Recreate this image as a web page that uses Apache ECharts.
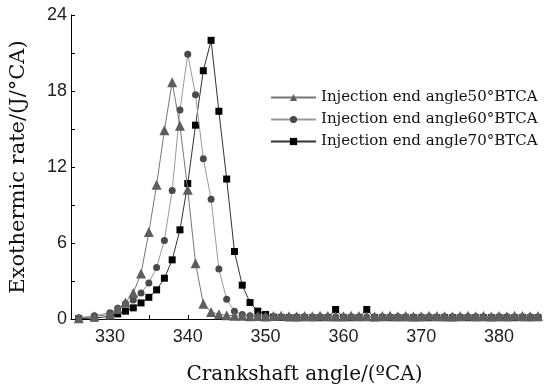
<!DOCTYPE html>
<html>
<head>
<meta charset="utf-8">
<script src="https://cdn.jsdelivr.net/npm/echarts@6/dist/echarts.min.js"></script>
<style>html,body{margin:0;padding:0;background:#fff}#c{width:550px;height:390px}</style>
</head>
<body>
<div id="c"></div>
<script>
// Crankshaft angle (°CA)
const angles = [326,328,330,331,332,333,334,335,336,337,338,339,340,341,342,343,344,345,346,
  347,348,349,350,351,352,353,354,355,356,357,358,359,360,361,362,363,364,365,366,
  367,368,369,370,371,372,373,374,375,376,377,378,379,380,381,382,383,384,385];

const names = ['Injection end angle50°BTCA','Injection end angle60°BTCA','Injection end angle70°BTCA'];

// Exothermic rate (J/°CA)
const rate50 = [0.05,0.2,0.36,0.78,1.3,2.05,3.6,6.86,10.6,14.9,18.7,15.25,10.2,4.4,1.2,0.55,0.38,0.3,0.25,
  0.25,0.22,0.24,0.2,0.23,0.25,0.22,0.2,0.24,0.22,0.25,0.23,0.2,0.22,0.25,0.24,0.22,0.2,0.23,0.25,
  0.22,0.24,0.2,0.22,0.25,0.23,0.22,0.2,0.24,0.25,0.22,0.23,0.2,0.24,0.22,0.25,0.23,0.21,0.24];
const rate60 = [0.1,0.25,0.5,0.85,1.22,1.5,2.05,2.85,4.06,6.2,10.15,16.5,20.9,17.7,12.65,9.45,3.94,1.55,0.62,
  0.35,0.25,0.2,0.18,0.17,0.18,0.16,0.17,0.18,0.16,0.17,0.18,0.17,0.16,0.18,0.17,0.16,0.18,0.17,0.16,
  0.18,0.17,0.16,0.17,0.18,0.16,0.17,0.18,0.16,0.17,0.18,0.17,0.16,0.18,0.17,0.16,0.18,0.17,0.16];
const rate70 = [0.02,0.08,0.2,0.4,0.62,0.88,1.27,1.71,2.3,3.22,4.67,7.04,10.7,15.3,19.6,22.0,16.4,11.05,5.33,
  2.67,1.3,0.62,0.36,0.15,0.12,0.1,0.1,0.1,0.1,0.1,0.1,0.75,0.1,0.1,0.1,0.75,0.1,0.1,0.1,
  0.1,0.1,0.1,0.1,0.1,0.1,0.1,0.1,0.1,0.1,0.1,0.1,0.1,0.1,0.1,0.1,0.1,0.1,0.1];

const xTicks = [330,340,350,360,370,380];
const yTicks = [0,6,12,18,24];

function pairs(vals){ return angles.map((a,i)=>[a, vals[i]]); }

const chart = echarts.init(document.getElementById('c'), null, {renderer:'canvas'});
const serif = 'DejaVu Serif';
const sans = 'Liberation Sans';

chart.setOption({
  animation:false,
  backgroundColor:'#fff',
  grid:{left:66, right:12, top:15, bottom:66, containLabel:false},
  legend:{
    orient:'vertical', left:270, top:90, padding:0, itemWidth:45, itemHeight:9, itemGap:7,
    data:names,
    textStyle:{fontFamily:serif, fontSize:15, color:'#111'}
  },
  xAxis:{
    type:'value', min:325, max:385, interval:5,
    name:'Crankshaft angle/(ºCA)', nameLocation:'middle', nameGap:46,
    nameTextStyle:{fontFamily:serif, fontSize:20, color:'#111'},
    axisLine:{lineStyle:{color:'#000', width:1}},
    axisTick:{inside:true, length:4, lineStyle:{color:'#000'}},
    axisLabel:{fontFamily:sans, fontSize:18, color:'#222', margin:9,
      formatter:v=> xTicks.includes(v) ? String(v) : ''},
    splitLine:{show:false}
  },
  yAxis:{
    type:'value', min:0, max:24, interval:3,
    name:'Exothermic rate/(J/°CA)', nameLocation:'middle', nameGap:42,
    nameTextStyle:{fontFamily:serif, fontSize:21, color:'#111'},
    axisLine:{show:true, lineStyle:{color:'#000', width:1}},
    axisTick:{show:true, inside:true, length:4, lineStyle:{color:'#000'}},
    axisLabel:{fontFamily:sans, fontSize:18, color:'#222', margin:4,
      formatter:v=> yTicks.includes(v) ? String(v) : ''},
    splitLine:{show:false}
  },
  series:[
    {name:names[0], type:'line', data:pairs(rate50), symbol:'triangle', symbolSize:10, z:4,
      lineStyle:{color:'#777', width:1}, itemStyle:{color:'#5e5e5e'}},
    {name:names[1], type:'line', data:pairs(rate60), symbol:'circle', symbolSize:7, z:3,
      lineStyle:{color:'#999', width:1}, itemStyle:{color:'#4a4a4a'}},
    {name:names[2], type:'line', data:pairs(rate70), symbol:'rect', symbolSize:7, z:2,
      lineStyle:{color:'#333', width:1}, itemStyle:{color:'#000'}}
  ]
});
</script>
</body>
</html>
